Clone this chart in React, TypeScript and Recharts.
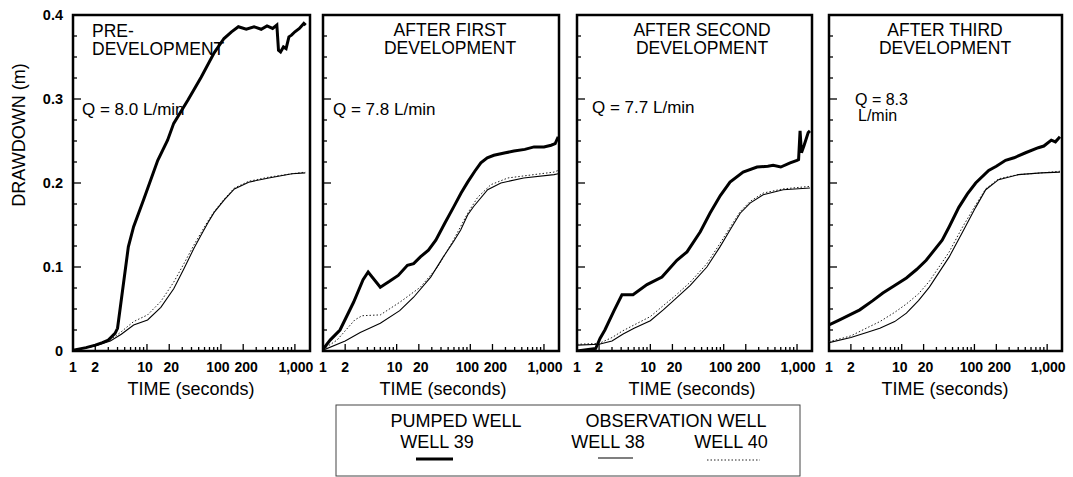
import React from 'react';
import { LineChart, Line, XAxis, YAxis, ReferenceArea } from 'recharts';

const FONT = '"Liberation Sans", Arial, Helvetica, sans-serif';

// ---------- axis ticks ----------
const xTicks = [1, 2, 3, 4, 5, 6, 7, 8, 9, 10, 20, 30, 40, 50, 60, 70, 80, 90, 100, 200, 300, 400, 500, 600, 700, 800, 900, 1000];
const xLabelValues = [1, 2, 10, 20, 100, 200, 1000];
const xLabelText = ['1', '2', '10', '20', '100', '200', '1,000'];
const yTicks = [0, 0.025, 0.05, 0.075, 0.1, 0.125, 0.15, 0.175, 0.2, 0.225, 0.25, 0.275, 0.3, 0.325, 0.35, 0.375, 0.4];
const yLabelValues = [0, 0.1, 0.2, 0.3, 0.4];
const yLabelText = ['0', '0.1', '0.2', '0.3', '0.4'];

// ---------- panel 1: pre-development ----------
const p1T39 = [1, 1.5, 2, 2.5, 3, 3.7, 4, 5.6, 6.6, 9, 14, 19, 23, 36, 54, 81, 110, 139, 172, 220, 280, 350, 420, 500, 570, 600, 640, 700, 760, 830, 900, 1000, 1150, 1320, 1400];
const p1W39 = [0.001, 0.004, 0.007, 0.01, 0.013, 0.021, 0.027, 0.124, 0.148, 0.18, 0.227, 0.251, 0.271, 0.299, 0.326, 0.355, 0.372, 0.38, 0.386, 0.383, 0.386, 0.383, 0.387, 0.384, 0.388, 0.358, 0.356, 0.362, 0.36, 0.374, 0.376, 0.38, 0.384, 0.39, 0.388];
const p1T38 = [1, 2, 3.2, 4.5, 6.6, 10.2, 15.4, 23, 31.6, 43, 54, 67, 81, 111, 152, 237, 443, 915, 1380];
const p1W38 = [0.001, 0.006, 0.012, 0.02, 0.031, 0.037, 0.052, 0.074, 0.098, 0.122, 0.138, 0.153, 0.165, 0.18, 0.193, 0.201, 0.206, 0.211, 0.212];
const p1T40 = [1, 2, 3.2, 4.5, 6.6, 10.2, 15.4, 23, 31.6, 43, 54, 67, 81, 111, 152, 237, 443, 915, 1380];
const p1W40 = [0.001, 0.006, 0.013, 0.023, 0.035, 0.043, 0.059, 0.082, 0.104, 0.126, 0.141, 0.155, 0.166, 0.181, 0.194, 0.202, 0.207, 0.211, 0.213];

// ---------- panel 2: after first development ----------
const p2T39 = [1, 1.25, 1.7, 2.6, 3.5, 4.1, 6, 8, 10.5, 14, 17, 21, 27, 34, 45, 59, 75, 92, 115, 139, 170, 209, 300, 391, 550, 733, 1000, 1250, 1420, 1560];
const p2W39 = [0.002, 0.013, 0.025, 0.058, 0.085, 0.094, 0.076, 0.083, 0.09, 0.102, 0.104, 0.112, 0.12, 0.132, 0.152, 0.171, 0.188, 0.201, 0.214, 0.224, 0.23, 0.233, 0.236, 0.238, 0.24, 0.243, 0.243, 0.245, 0.247, 0.255];
const p2T38 = [1, 2, 3.2, 4.5, 6, 11, 17, 29, 43, 59, 74, 92, 111, 172, 260, 530, 1370, 1560];
const p2W38 = [0.001, 0.012, 0.022, 0.028, 0.033, 0.048, 0.064, 0.088, 0.112, 0.13, 0.144, 0.162, 0.172, 0.192, 0.2, 0.206, 0.21, 0.211];
const p2T40 = [1, 1.55, 2.7, 3.4, 6, 11, 21, 36, 59, 92, 126, 190, 324, 733, 1370, 1560];
const p2W40 = [0.002, 0.013, 0.037, 0.042, 0.043, 0.058, 0.076, 0.1, 0.132, 0.164, 0.183, 0.198, 0.206, 0.21, 0.213, 0.215];

// ---------- panel 3: after second development ----------
const p3T39 = [1, 1.8, 2.06, 2.4, 3.2, 4.1, 5.8, 9, 14.4, 23, 31.6, 48, 65, 90, 122, 184, 285, 400, 472, 600, 805, 1000, 1050, 1100, 1150, 1250, 1420, 1500];
const p3W39 = [0, 0.003, 0.015, 0.025, 0.048, 0.067, 0.067, 0.079, 0.088, 0.108, 0.118, 0.142, 0.164, 0.185, 0.201, 0.213, 0.219, 0.22, 0.221, 0.219, 0.224, 0.227, 0.228, 0.262, 0.236, 0.245, 0.26, 0.262];
const p3T38 = [1, 2, 3, 4.2, 6, 10, 15, 22, 35, 59, 89, 122, 168, 229, 345, 647, 1500];
const p3W38 = [0.007, 0.008, 0.012, 0.02, 0.027, 0.036, 0.049, 0.062, 0.078, 0.1, 0.124, 0.144, 0.164, 0.176, 0.186, 0.192, 0.194];
const p3T40 = [1, 2, 3, 4.2, 6, 10, 15, 22, 35, 59, 89, 122, 168, 229, 345, 647, 1500];
const p3W40 = [0.008, 0.009, 0.016, 0.024, 0.031, 0.041, 0.054, 0.066, 0.082, 0.104, 0.128, 0.147, 0.166, 0.178, 0.188, 0.193, 0.196];

// ---------- panel 4: after third development ----------
const p4T39 = [1, 1.4, 2.65, 4, 5.5, 8, 11.6, 16, 21.7, 36, 45, 61, 80, 104, 157, 200, 268, 350, 505, 756, 900, 1140, 1300, 1500];
const p4W39 = [0.031, 0.037, 0.049, 0.06, 0.069, 0.078, 0.087, 0.097, 0.108, 0.132, 0.148, 0.171, 0.187, 0.2, 0.215, 0.22, 0.227, 0.23, 0.236, 0.242, 0.244, 0.251, 0.249, 0.255];
const p4T38 = [1, 2, 3.3, 5, 8, 11.6, 17, 24, 45, 67, 104, 143, 215, 402, 830, 1500];
const p4W38 = [0.01, 0.016, 0.022, 0.027, 0.035, 0.045, 0.06, 0.076, 0.112, 0.14, 0.171, 0.192, 0.204, 0.21, 0.212, 0.213];
const p4T40 = [1, 2, 3.6, 5, 8, 11.6, 17, 24, 45, 67, 104, 143, 215, 402, 830, 1500];
const p4W40 = [0.011, 0.018, 0.029, 0.035, 0.046, 0.056, 0.068, 0.083, 0.118, 0.146, 0.174, 0.193, 0.205, 0.21, 0.212, 0.214];

const zip = (t: number[], v: number[]) => t.map((x, i) => ({ t: x, v: v[i] }));

const panels = [
  { left: 73, width: 237, mL: 73, mR: 25, w39: zip(p1T39, p1W39), w38: zip(p1T38, p1W38), w40: zip(p1T40, p1W40), labels: true },
  { left: 323, width: 236, mL: 20, mR: 25, w39: zip(p2T39, p2W39), w38: zip(p2T38, p2W38), w40: zip(p2T40, p2W40), labels: false },
  { left: 577, width: 235, mL: 20, mR: 25, w39: zip(p3T39, p3W39), w38: zip(p3T38, p3W38), w40: zip(p3T40, p3W40), labels: false },
  { left: 829, width: 233, mL: 20, mR: 10, w39: zip(p4T39, p4W39), w38: zip(p4T38, p4W38), w40: zip(p4T40, p4W40), labels: false },
];

const TOP = 15;
const CH = 400;
const BOTTOM_M = 48; // + 1px x-axis height -> plot bottom at 351

// small horizontal nudges so that the paired labels (10/20, 100/200) do not collide
const labelNudge = [0, 0, -2, 2, -3, 3, 1];

const XTick = (props: any) => {
  const { x, y, payload } = props;
  const idx = xLabelValues.indexOf(payload.value);
  const major = idx >= 0;
  return (
    <g>
      <line x1={x} x2={x} y1={y} y2={y - (major ? 7 : 4)} stroke="#000" strokeWidth={1.3} />
      {major && (
        <text x={x + labelNudge[idx]} y={y + 21} textAnchor="middle" fontSize={14} fontWeight="bold" fontFamily={FONT} fill="#000">
          {xLabelText[idx]}
        </text>
      )}
    </g>
  );
};

const makeYTick = (showLabels: boolean) => (props: any) => {
  const { x, y, payload } = props;
  const idx = yLabelValues.findIndex((a) => Math.abs(a - payload.value) < 1e-9);
  const major = idx >= 0;
  return (
    <g>
      <line x1={x} x2={x + (major ? 8 : 4)} y1={y} y2={y} stroke="#000" strokeWidth={1.3} />
      {showLabels && major && (
        <text x={x - 10} y={y + 5} textAnchor="end" fontSize={14.5} fontWeight="bold" fontFamily={FONT} fill="#000">
          {yLabelText[idx]}
        </text>
      )}
    </g>
  );
};

const Panel = ({ p }: { p: any }) => {
  const chartW = p.mL + p.width + p.mR;
  return (
    <div style={{ position: 'absolute', left: p.left - p.mL, top: 0 }}>
      <LineChart width={chartW} height={CH} margin={{ top: TOP, right: p.mR, bottom: BOTTOM_M, left: p.mL - 1 }}>
        <XAxis
          dataKey="t"
          type="number"
          scale="log"
          domain={[1, 1600]}
          allowDataOverflow
          ticks={xTicks}
          interval={0}
          tickSize={0}
          tickMargin={0}
          tickLine={false}
          axisLine={false}
          height={1}
          tick={XTick}
        />
        <YAxis
          type="number"
          domain={[0, 0.4]}
          allowDataOverflow
          ticks={yTicks}
          interval={0}
          tickSize={0}
          tickMargin={0}
          tickLine={false}
          axisLine={false}
          width={1}
          tick={makeYTick(p.labels)}
        />
        <Line data={p.w40} dataKey="v" type="linear" stroke="#222" strokeWidth={1} strokeDasharray="1.5 2" dot={false} isAnimationActive={false} />
        <Line data={p.w38} dataKey="v" type="linear" stroke="#000" strokeWidth={1.1} dot={false} isAnimationActive={false} />
        <Line data={p.w39} dataKey="v" type="linear" stroke="#000" strokeWidth={3} dot={false} isAnimationActive={false} />
        <ReferenceArea x1={1} x2={1600} y1={0} y2={0.4} fill="none" stroke="#000" strokeWidth={2.5} ifOverflow="visible" />
      </LineChart>
    </div>
  );
};

const T = (props: any) => <text fontFamily={FONT} fill="#000" {...props} />;

export default function App() {
  return (
    <div style={{ position: 'absolute', left: 0, top: 0, width: 1073, height: 477, background: '#fff', overflow: 'hidden' }}>
      {panels.map((p, i) => (
        <Panel key={i} p={p} />
      ))}
      <svg width={1073} height={477} style={{ position: 'absolute', left: 0, top: 0, pointerEvents: 'none' }}>
        {/* y axis title */}
        <T x={25} y={135} fontSize={18} textAnchor="middle" transform="rotate(-90 25 135)">DRAWDOWN (m)</T>

        {/* panel titles */}
        <T x={92} y={37} fontSize={17.5}>PRE-</T>
        <T x={92} y={55} fontSize={17.5}>DEVELOPMENT</T>
        <T x={450} y={36} fontSize={17.5} textAnchor="middle">AFTER FIRST</T>
        <T x={450} y={54} fontSize={17.5} textAnchor="middle">DEVELOPMENT</T>
        <T x={702} y={36} fontSize={17.5} textAnchor="middle">AFTER SECOND</T>
        <T x={702} y={54} fontSize={17.5} textAnchor="middle">DEVELOPMENT</T>
        <T x={945} y={36} fontSize={17.5} textAnchor="middle">AFTER THIRD</T>
        <T x={945} y={54} fontSize={17.5} textAnchor="middle">DEVELOPMENT</T>

        {/* discharge labels */}
        <T x={82} y={115} fontSize={17}>Q = 8.0 L/min</T>
        <T x={333} y={115} fontSize={17}>Q = 7.8 L/min</T>
        <T x={592} y={113} fontSize={17}>Q = 7.7 L/min</T>
        <T x={855} y={105} fontSize={16}>Q = 8.3</T>
        <T x={858} y={121} fontSize={16}>L/min</T>

        {/* x axis titles */}
        <T x={191} y={395} fontSize={18} textAnchor="middle">TIME (seconds)</T>
        <T x={443} y={395} fontSize={18} textAnchor="middle">TIME (seconds)</T>
        <T x={692} y={395} fontSize={18} textAnchor="middle">TIME (seconds)</T>
        <T x={945} y={395} fontSize={18} textAnchor="middle">TIME (seconds)</T>

        {/* legend */}
        <rect x={336} y={405} width={464} height={71} fill="none" stroke="#444" strokeWidth={1} />
        <T x={456} y={427} fontSize={18} textAnchor="middle">PUMPED WELL</T>
        <T x={437} y={448} fontSize={18} textAnchor="middle">WELL 39</T>
        <line x1={416} x2={453} y1={459} y2={459} stroke="#000" strokeWidth={3} />
        <T x={676} y={427} fontSize={18} textAnchor="middle">OBSERVATION WELL</T>
        <T x={608} y={448} fontSize={18} textAnchor="middle">WELL 38</T>
        <line x1={598} x2={633} y1={458} y2={458} stroke="#000" strokeWidth={1.1} />
        <T x={731} y={448} fontSize={18} textAnchor="middle">WELL 40</T>
        <line x1={707} x2={760} y1={460} y2={460} stroke="#222" strokeWidth={1} strokeDasharray="1.5 2" />
      </svg>
    </div>
  );
}
